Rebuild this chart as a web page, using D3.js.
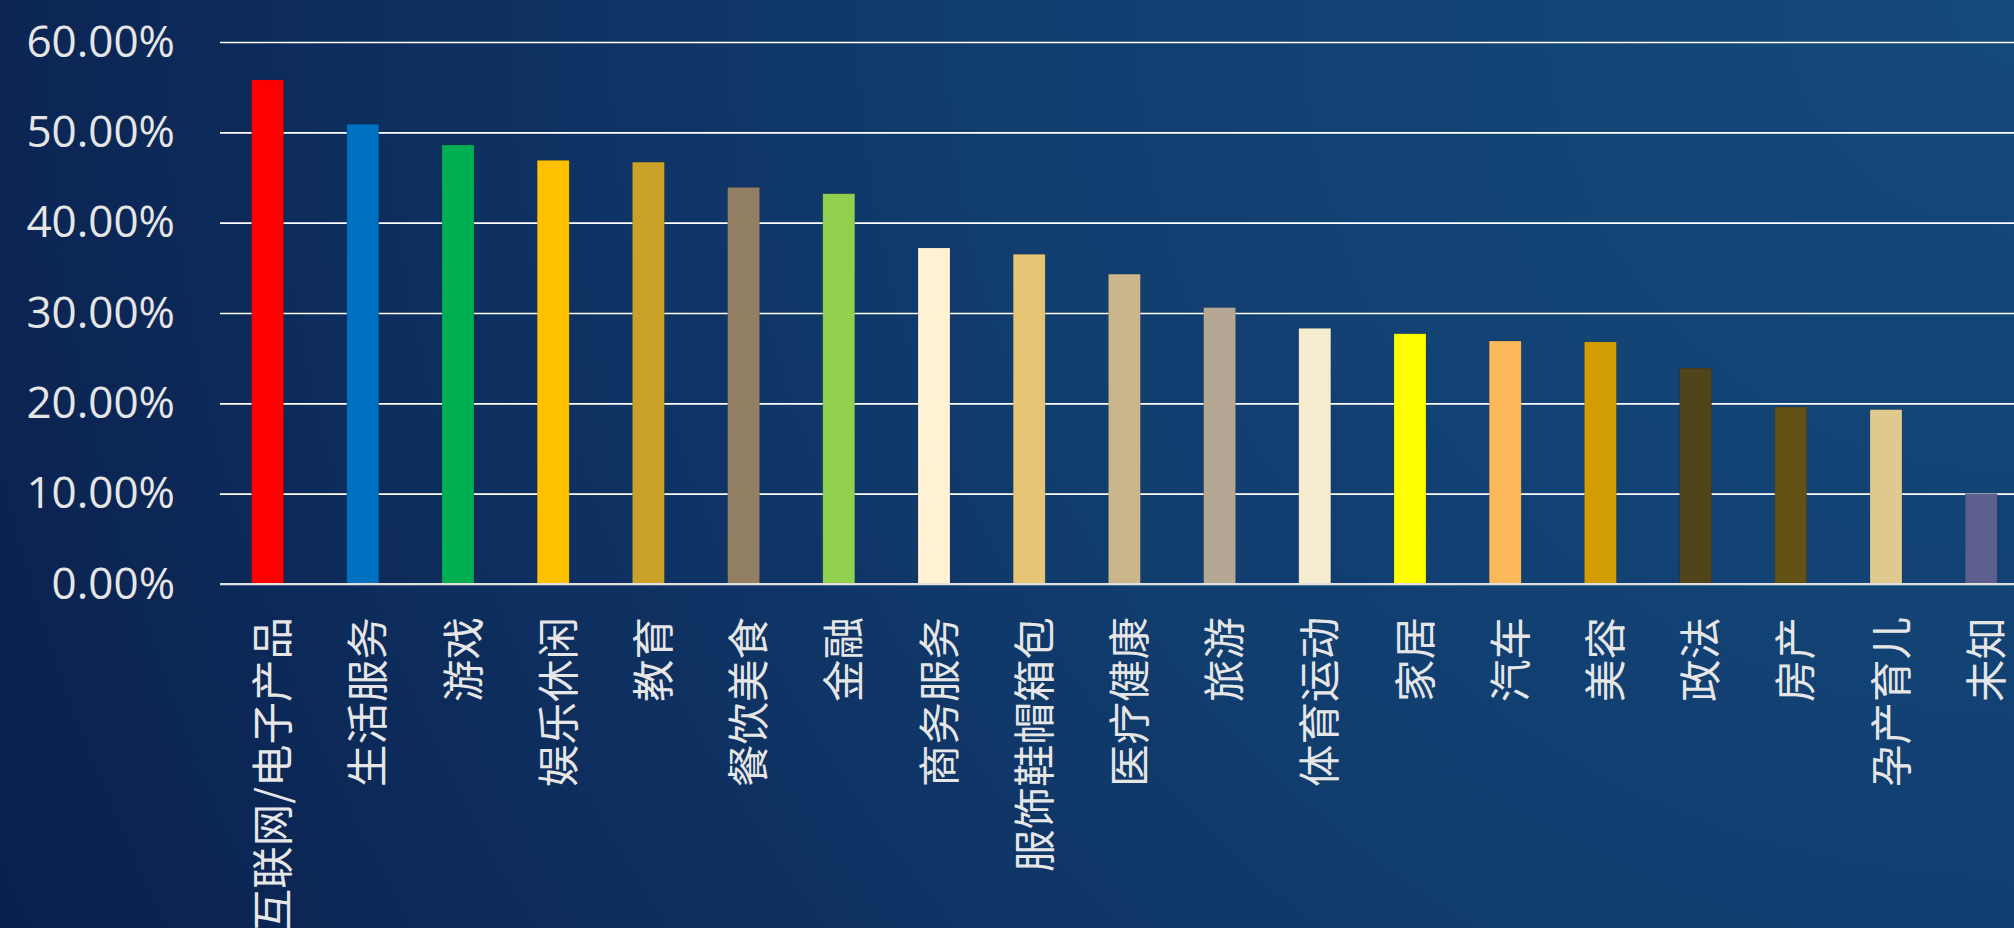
<!DOCTYPE html>
<html>
<head>
<meta charset="utf-8">
<script src="https://cdn.jsdelivr.net/npm/d3@7"></script>
<style>
  html, body { margin: 0; padding: 0; overflow: hidden; background: #0d2b5c; }
  svg { display: block; }
</style>
</head>
<body>
<svg id="chart" width="2014" height="928"></svg>
<script>
const categories = ["互联网/电子产品","生活服务","游戏","娱乐休闲","教育","餐饮美食","金融","商务服务","服饰鞋帽箱包","医疗健康","旅游","体育运动","家居","汽车","美容","政法","房产","孕产育儿","未知"];
const values = [55.8, 50.9, 48.6, 46.9, 46.7, 43.9, 43.2, 37.2, 36.5, 34.3, 30.6, 28.3, 27.7, 26.9, 26.8, 23.9, 19.6, 19.3, 10.0];
const barColors = ["#ff0000","#0070c0","#00b050","#ffc000","#c9a227","#937f64","#92d050","#fff2d4","#e6c674","#cbb68b","#b4a794","#f6ecd0","#ffff00","#fdb85a","#d29d03","#51431a","#645116","#dfc98f","#5e5f8e"];
const yTicks = [0, 10, 20, 30, 40, 50, 60];

const W = 2014, H = 928;
const svg = d3.select("#chart");

// background gradient
const defs = svg.append("defs");
const rg = defs.append("radialGradient").attr("id", "bg")
  .attr("gradientUnits", "userSpaceOnUse")
  .attr("cx", W).attr("cy", 0).attr("r", 2250);
rg.append("stop").attr("offset", "0%").attr("stop-color", "#154a7c");
rg.append("stop").attr("offset", "45%").attr("stop-color", "#113d6f");
rg.append("stop").attr("offset", "100%").attr("stop-color", "#0a1f4d");
svg.append("rect").attr("width", W).attr("height", H).attr("fill", "url(#bg)");

const x0 = 220, step = 95.2;
const x = d3.scaleBand().domain(categories)
  .range([x0, x0 + step * categories.length])
  .paddingInner(0.664).paddingOuter(0.332);
const y = d3.scaleLinear().domain([0, 60]).range([584, 42]);

// gridlines
const yAxis = d3.axisLeft(y).tickValues(yTicks)
  .tickSize(-(W - x0)).tickPadding(45)
  .tickFormat(d => d3.format(".2f")(d) + "%");
const gy = svg.append("g").attr("transform", `translate(${x0},0)`).call(yAxis);
gy.select(".domain").remove();
gy.selectAll(".tick line").attr("stroke", "#ffffff").attr("stroke-width", 1.6);
gy.selectAll(".tick text")
  .attr("fill", "#e6e6e6")
  .style("font-family", "'Open Sans', 'Noto Sans', sans-serif")
  .style("font-size", "44px");

// bars
svg.append("g").selectAll("rect").data(values).join("rect")
  .attr("x", (d, i) => x(categories[i]))
  .attr("width", x.bandwidth())
  .attr("y", d => y(d))
  .attr("height", d => y(0) - y(d))
  .attr("fill", (d, i) => barColors[i])
  .attr("stroke", "rgba(0,0,0,0.15)")
  .attr("stroke-width", 0.8);

// baseline
svg.append("line").attr("x1", x0).attr("x2", W).attr("y1", y(0)).attr("y2", y(0))
  .attr("stroke", "#e0e0e0").attr("stroke-width", 1.8);

// category labels
const xAxis = d3.axisBottom(x).tickSize(0).tickPadding(0);
const gx = svg.append("g").attr("transform", `translate(0,${y(0)})`).call(xAxis);
gx.select(".domain").remove();
gx.selectAll(".tick text")
  .attr("fill", "#e6e6e6")
  .attr("text-anchor", "end")
  .attr("dominant-baseline", "central")
  .attr("dy", null)
  .attr("transform", "translate(2,33) rotate(-90)")
  .attr("x", 0).attr("y", 0)
  .style("font-family", "'Noto Sans CJK SC', sans-serif")
  .style("font-size", "42.5px");
</script>
</body>
</html>
